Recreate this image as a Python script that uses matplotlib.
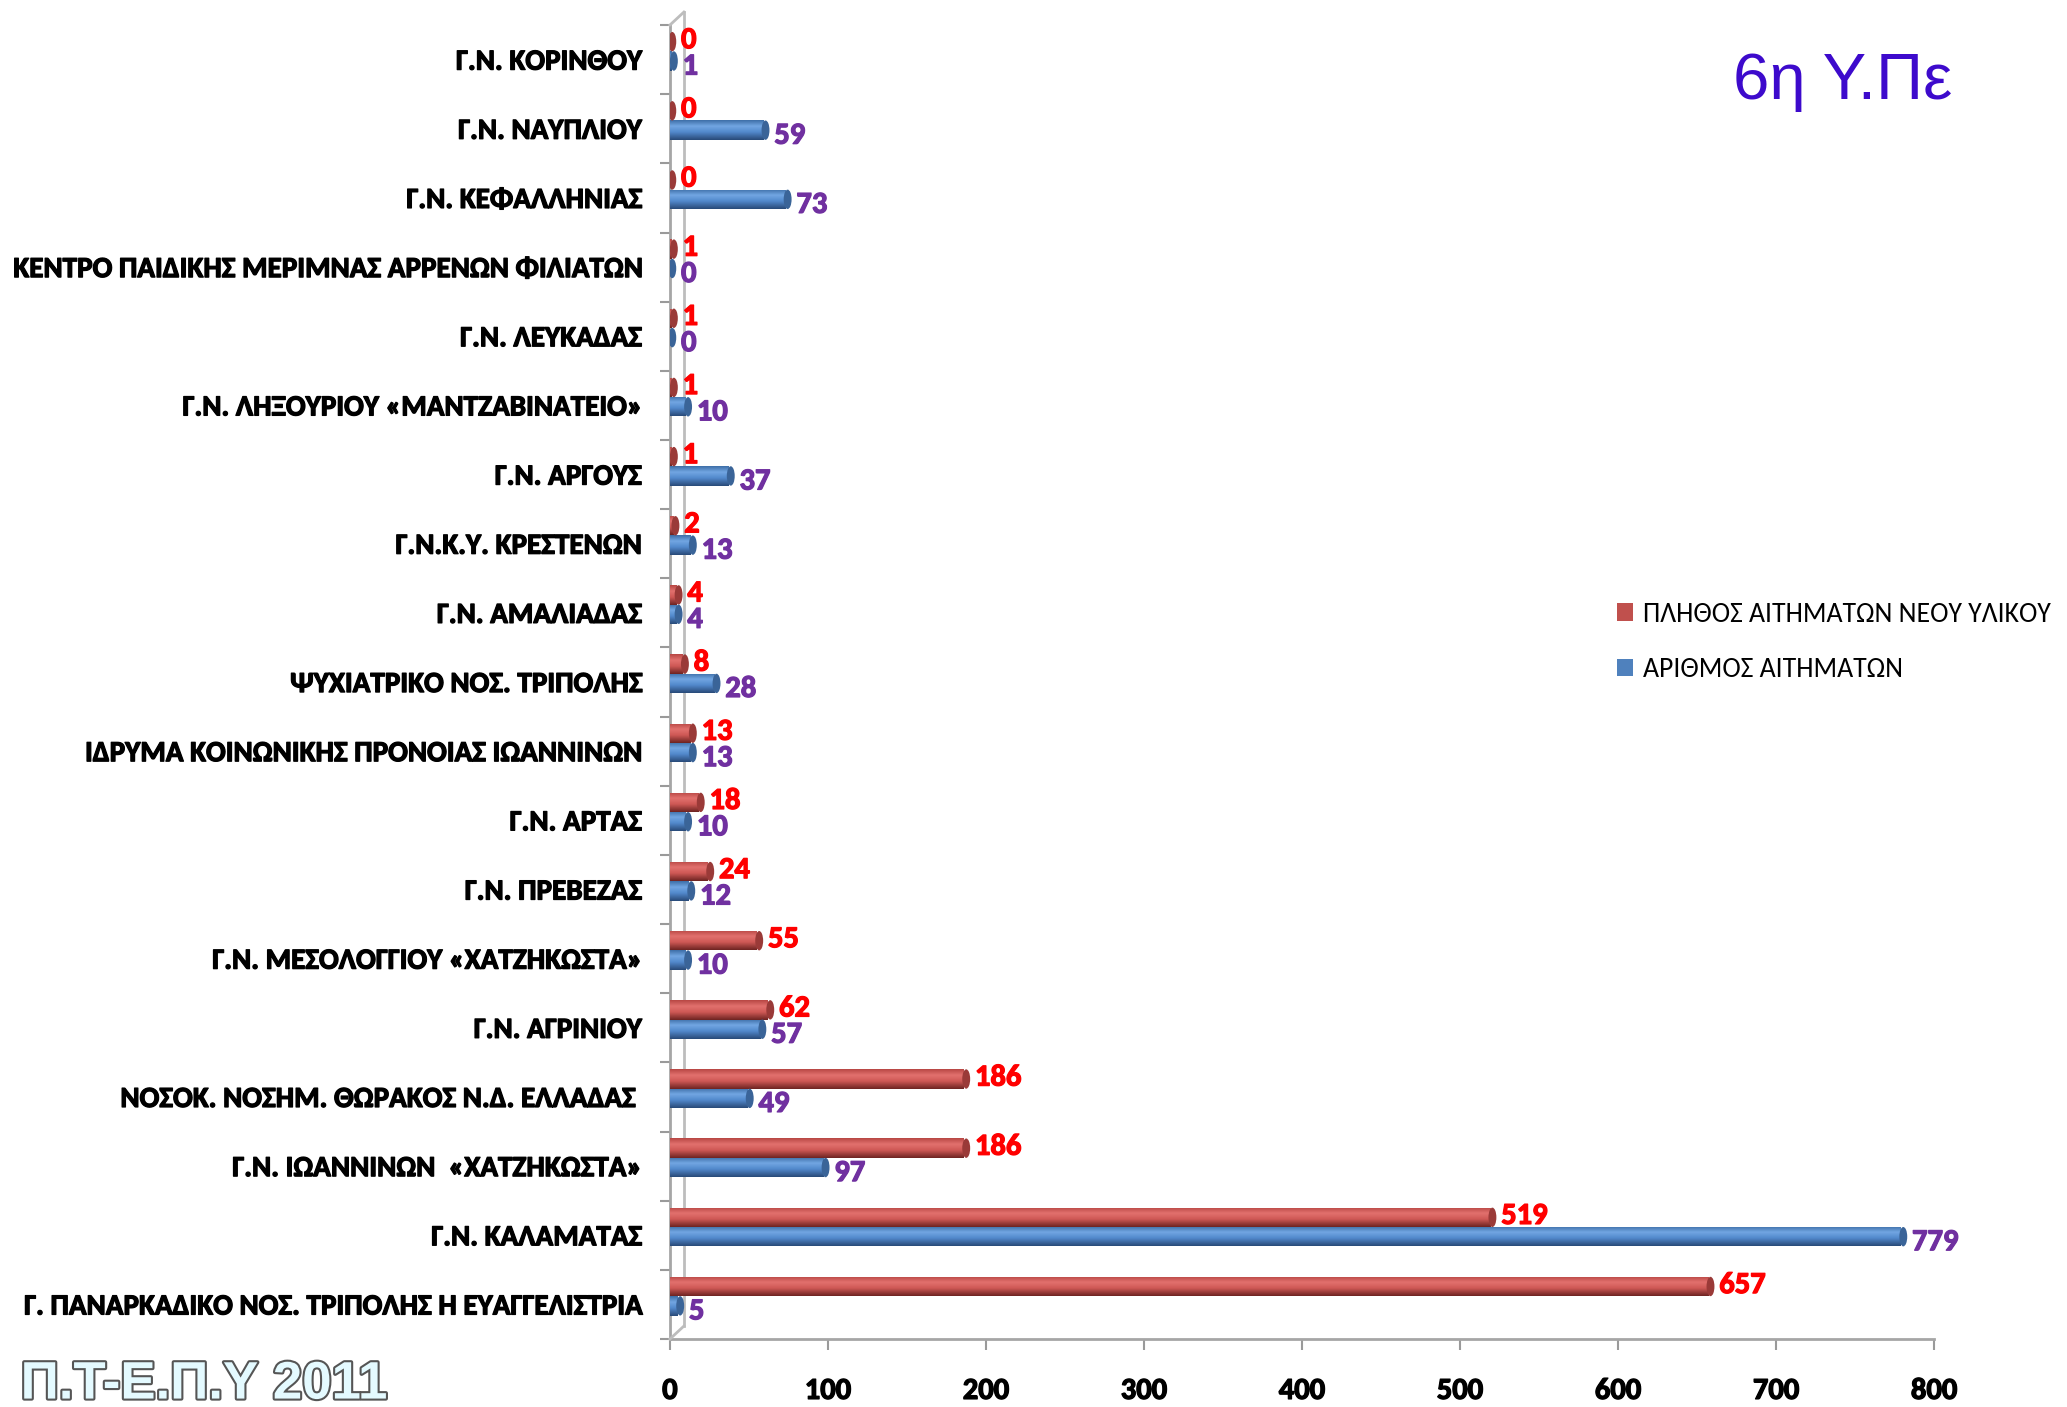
import matplotlib
matplotlib.use("Agg")
import matplotlib.pyplot as plt
import numpy as np
from matplotlib.colors import LinearSegmentedColormap
from matplotlib.patches import Ellipse, Patch
from matplotlib.lines import Line2D
import matplotlib.transforms as mtransforms
import matplotlib.patheffects as pe

categories = [
    "Γ.Ν. ΚΟΡΙΝΘΟΥ",
    "Γ.Ν. ΝΑΥΠΛΙΟΥ",
    "Γ.Ν. ΚΕΦΑΛΛΗΝΙΑΣ",
    "ΚΕΝΤΡΟ ΠΑΙΔΙΚΗΣ ΜΕΡΙΜΝΑΣ ΑΡΡΕΝΩΝ ΦΙΛΙΑΤΩΝ",
    "Γ.Ν. ΛΕΥΚΑΔΑΣ",
    "Γ.Ν. ΛΗΞΟΥΡΙΟΥ «ΜΑΝΤΖΑΒΙΝΑΤΕΙΟ»",
    "Γ.Ν. ΑΡΓΟΥΣ",
    "Γ.Ν.Κ.Υ. ΚΡΕΣΤΕΝΩΝ",
    "Γ.Ν. ΑΜΑΛΙΑΔΑΣ",
    "ΨΥΧΙΑΤΡΙΚΟ ΝΟΣ. ΤΡΙΠΟΛΗΣ",
    "ΙΔΡΥΜΑ ΚΟΙΝΩΝΙΚΗΣ ΠΡΟΝΟΙΑΣ ΙΩΑΝΝΙΝΩΝ",
    "Γ.Ν. ΑΡΤΑΣ",
    "Γ.Ν. ΠΡΕΒΕΖΑΣ",
    "Γ.Ν. ΜΕΣΟΛΟΓΓΙΟΥ «ΧΑΤΖΗΚΩΣΤΑ»",
    "Γ.Ν. ΑΓΡΙΝΙΟΥ",
    "ΝΟΣΟΚ. ΝΟΣΗΜ. ΘΩΡΑΚΟΣ Ν.Δ. ΕΛΛΑΔΑΣ ",
    "Γ.Ν. ΙΩΑΝΝΙΝΩΝ  «ΧΑΤΖΗΚΩΣΤΑ»",
    "Γ.Ν. ΚΑΛΑΜΑΤΑΣ",
    "Γ. ΠΑΝΑΡΚΑΔΙΚΟ ΝΟΣ. ΤΡΙΠΟΛΗΣ Η ΕΥΑΓΓΕΛΙΣΤΡΙΑ",
]
new_material = [0, 0, 0, 1, 1, 1, 1, 2, 4, 8, 13, 18, 24, 55, 62, 186, 186, 519, 657]
requests = [1, 59, 73, 0, 0, 10, 37, 13, 4, 28, 13, 10, 12, 10, 57, 49, 97, 779, 5]
series_names = ["ΠΛΗΘΟΣ ΑΙΤΗΜΑΤΩΝ ΝΕΟΥ ΥΛΙΚΟΥ", "ΑΡΙΘΜΟΣ ΑΙΤΗΜΑΤΩΝ"]
xticks = [0, 100, 200, 300, 400, 500, 600, 700, 800]
title_text = "6η Υ.Πε"
footer_text = "Π.Τ-Ε.Π.Υ 2011"

CAL = ["Carlito", "DejaVu Sans"]

def heavy(color):
    return [pe.withStroke(linewidth=0.9, foreground=color)]

fig = plt.figure(figsize=(20.67, 14.07), dpi=100)
ax = fig.add_axes([0.3241, 0.0483, 0.9357 - 0.3241, 0.9822 - 0.0483])

y = np.arange(len(categories))
h = 0.28
red_pos = y - 0.26
blue_pos = y + 0.02

red_base = "#C9524F"
blue_base = "#4F86C6"
red_cmap = LinearSegmentedColormap.from_list(
    "r", [(0, "#B84744"), (0.3, "#E2716E"), (0.6, "#CF5956"), (1, "#6E2422")])
blue_cmap = LinearSegmentedColormap.from_list(
    "b", [(0, "#3E6FA8"), (0.3, "#72A6E2"), (0.6, "#5289CC"), (1, "#294A78")])

bars_r = ax.barh(red_pos, new_material, height=h, color=red_base, zorder=3)
bars_b = ax.barh(blue_pos, requests, height=h, color=blue_base, zorder=3)

grad = np.linspace(0, 1, 64).reshape(-1, 1)
for bars, cmap, capc in ((bars_r, red_cmap, "#9A3A38"), (bars_b, blue_cmap, "#3A6498")):
    for p in bars:
        x0, y0, w, hh = p.get_x(), p.get_y(), p.get_width(), p.get_height()
        if w > 0:
            im = ax.imshow(grad, extent=[x0, x0 + w, y0 + hh, y0], cmap=cmap,
                           aspect="auto", zorder=4, interpolation="bilinear")
            im.set_clip_path(p)
        cap = Ellipse((x0 + w + 1.5, y0 + hh / 2), width=5, height=hh,
                      facecolor=capc, edgecolor="none", zorder=5)
        ax.add_patch(cap)

for v, yy in zip(new_material, red_pos):
    ax.annotate(str(v), xy=(v, yy), xytext=(8, 1), textcoords="offset points",
                ha="left", va="center", color="#FF0000", fontsize=22,
                fontweight="bold", family=CAL, zorder=6, path_effects=heavy("#FF0000"))
for v, yy in zip(requests, blue_pos):
    ax.annotate(str(v), xy=(v, yy), xytext=(8, -4), textcoords="offset points",
                ha="left", va="center", color="#7030A0", fontsize=22,
                fontweight="bold", family=CAL, zorder=6, path_effects=heavy("#7030A0"))

ax.set_xlim(0, 800)
ax.set_ylim(len(categories) - 0.5, -0.5)
ax.set_xticks(xticks)
ax.set_xticklabels([str(t) for t in xticks], fontsize=22, fontweight="bold", family=CAL)
ax.set_yticks(y)
ax.set_yticklabels(categories, fontsize=21, fontweight="bold", family=CAL)
for t in ax.get_xticklabels() + ax.get_yticklabels():
    t.set_path_effects(heavy("black"))
ax.set_yticks(np.arange(-0.5, len(categories), 1), minor=True)
ax.tick_params(axis="y", which="major", length=0, pad=20)
ax.tick_params(axis="y", which="minor", length=7, width=1.5, color="#9A9A9A", direction="out")
ax.tick_params(axis="x", which="major", length=8, width=1.5, color="#9A9A9A", pad=20)

for s in ("top", "right"):
    ax.spines[s].set_visible(False)
for s in ("left", "bottom"):
    ax.spines[s].set_color("#A6A6A6")
    ax.spines[s].set_linewidth(2)

# 3D wall back edge
off = mtransforms.ScaledTranslation(0.14, 0.13, fig.dpi_scale_trans)
tr = ax.transAxes + off
ax.add_line(Line2D([0, 0], [0, 1], transform=tr, color="#BDBDBD", lw=2, clip_on=False))
pos = ax.get_position()
fig.add_artist(Line2D([pos.x0, pos.x0 + 14 / 2067], [pos.y1, pos.y1 + 13 / 1407],
                      color="#BDBDBD", lw=2))
fig.add_artist(Line2D([pos.x0, pos.x0 + 14 / 2067], [pos.y0, pos.y0 + 13 / 1407],
                      color="#BDBDBD", lw=2))

handles = [Patch(facecolor="#C0504D"), Patch(facecolor="#4F81BD")]
fig.legend(handles, series_names, loc="upper left", bbox_to_anchor=(0.770, 0.590),
           frameon=False, prop={"family": CAL, "size": 20},
           handlelength=0.6, handleheight=0.6, handletextpad=0.35, labelspacing=1.1)

fig.text(0.8915, 0.942, title_text, ha="center", va="center", fontsize=47,
         color="#3D0ACC", family="Liberation Sans")

fig.text(0.010, 0.006, footer_text, ha="left", va="baseline", fontsize=38,
         fontweight="bold", family=["Liberation Sans", "DejaVu Sans"], color="#E4FAFF",
         path_effects=[pe.withStroke(linewidth=3, foreground="#555555")])

fig.savefig("out.png", dpi=100)
